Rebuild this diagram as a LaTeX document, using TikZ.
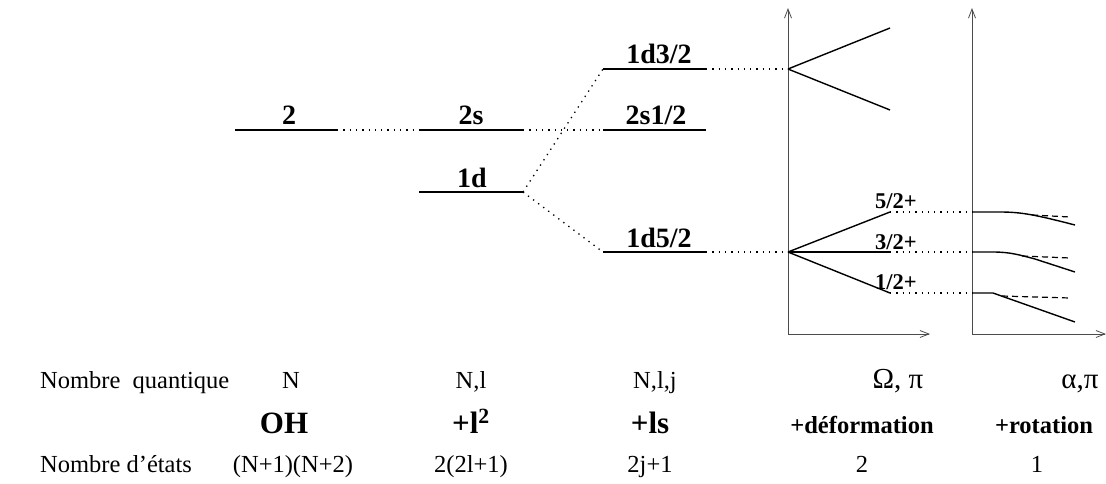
\documentclass[tikz,border=0pt]{standalone}
\usepackage{fontspec}
\setmainfont{Liberation Serif}
\usetikzlibrary{arrows.meta}

\tikzset{
  level/.style={line width=1.8pt},
  split/.style={line width=1.4pt},
  link/.style={line width=1.3pt, dash pattern=on 1.3pt off 5pt},
  tangent/.style={line width=1.2pt, dash pattern=on 6pt off 4pt},
  axis/.style={line width=0.8pt, black!70, -{Straight Barb[length=9pt,width=7pt,line width=0.8pt]}},
  lvlabel/.style={anchor=base, inner sep=0pt, font=\fontsize{28}{32}\selectfont\bfseries},
  omlabel/.style={anchor=base, inner sep=0pt, font=\fontsize{22.5}{26}\selectfont\bfseries},
  row/.style={anchor=base, inner sep=0pt, font=\fontsize{24.5}{29}\selectfont},
  bigrow/.style={anchor=base, inner sep=0pt, font=\fontsize{31}{36}\selectfont\bfseries},
  midrow/.style={anchor=base, inner sep=0pt, font=\fontsize{24.5}{29}\selectfont\bfseries},
  greek/.style={anchor=base, inner sep=0pt, font=\fontsize{29}{34}\selectfont},
}

\begin{document}
\begin{tikzpicture}[x=1pt, y=-1pt]
\useasboundingbox (0,0) rectangle (1106,483);

% ---- spherical levels ----
\coordinate (n2a) at (235,130);  \coordinate (n2b) at (337,130);
\coordinate (s2a) at (419,130);  \coordinate (s2b) at (523,130);
\coordinate (d1a) at (419,192);  \coordinate (d1b) at (523,192);
\coordinate (d32a) at (603,69);  \coordinate (d32b) at (706,69);
\coordinate (s12a) at (603,130); \coordinate (s12b) at (706,130);
\coordinate (d52a) at (603,252); \coordinate (d52b) at (706,252);

\draw[level] (n2a) -- (n2b);
\draw[level] (s2a) -- (s2b);
\draw[level] (d1a) -- (d1b);
\draw[level] (d32a) -- (d32b);
\draw[level] (s12a) -- (s12b);
\draw[level] (d52a) -- (d52b);

\node[lvlabel] (t2)   at (289,124) {2};
\node[lvlabel] (t2s)  at (471,124) {2s};
\node[lvlabel] (t1d)  at (472,187) {1d};
\node[lvlabel] (t132) at (659,63)  {1d3/2};
\node[lvlabel] (t212) at (656,124) {2s1/2};
\node[lvlabel] (t152) at (659,247) {1d5/2};

\draw[link] (n2b) -- (s2a);
\draw[link] (s2b) -- (s12a);
\draw[link] (d1b) -- (d32a);
\draw[link] (d1b) -- (d52a);

% ---- deformation axes ----
\coordinate (oa) at (788,334);
\coordinate (oaTop) at (788,8);
\coordinate (oaEnd) at (930,334);
\draw[axis] (oa) -- (oaTop);
\draw[axis] (oa) -- (oaEnd);

\coordinate (u0) at (788,69);
\coordinate (u1) at (890,28);
\coordinate (u2) at (890,110);
\coordinate (v0) at (788,252);
\coordinate (v52) at (890,212);
\coordinate (v32) at (890,252);
\coordinate (v12) at (890,293);

\draw[link] (d32b) -- (u0);
\draw[link] (d52b) -- (v0);
\draw[split] (u0) -- (u1);
\draw[split] (u0) -- (u2);
\draw[split] (v0) -- (v52);
\draw[split] (v0) -- (v32);
\draw[split] (v0) -- (v12);

\node[omlabel] (o52) at (896,208) {5/2+};
\node[omlabel] (o32) at (896,249) {3/2+};
\node[omlabel] (o12) at (896,289) {1/2+};

% ---- rotation axes ----
\coordinate (ra) at (972,334);
\coordinate (raTop) at (972,8);
\coordinate (raEnd) at (1106,334);
\draw[axis] (ra) -- (raTop);
\draw[axis] (ra) -- (raEnd);

\coordinate (w52) at (972,212);
\coordinate (w32) at (972,252);
\coordinate (w12) at (972,293);
\draw[link] (v52) -- (w52);
\draw[link] (v32) -- (w32);
\draw[link] (v12) -- (w12);

\coordinate (e52) at (1075,225);
\coordinate (e32) at (1075,272);
\coordinate (e12) at (1075,322);
\draw[split] (w52) -- (1000,212) .. controls (1022,212) and (1036,215) .. (e52);
\draw[split] (w32) -- (993,252) .. controls (1010,252) and (1020,255) .. (1035,259) -- (e32);
\draw[split] (w12) -- (993,293) -- (e12);

\coordinate (f52a) at (1032,215); \coordinate (f52b) at (1070,217);
\coordinate (f32a) at (1022,256); \coordinate (f32b) at (1070,258);
\coordinate (f12a) at (1002,296); \coordinate (f12b) at (1070,298);
\draw[tangent] (f52a) -- (f52b);
\draw[tangent] (f32a) -- (f32b);
\draw[tangent] (f12a) -- (f12b);

% ---- table of quantum numbers ----
\node[row, anchor=base west] (q0) at (40,388) {Nombre\ \ quantique};
\node[row] (q1) at (291,388) {N};
\node[row] (q2) at (471,388) {N,l};
\node[row] (q3) at (655,388) {N,l,j};
\node[greek] (q4) at (898,388) {Ω, π};
\node[greek] (q5) at (1080,388) {α,π};

\node[bigrow] (h1) at (284,433) {OH};
\node[bigrow] (h2) at (471,433) {+l\textsuperscript{2}};
\node[bigrow] (h3) at (650,433) {+ls};
\node[midrow] (h4) at (862,433) {+déformation};
\node[midrow] (h5) at (1044,433) {+rotation};

\node[row, anchor=base west] (e0) at (40,472) {Nombre d’états};
\node[row] (e1) at (293,472) {(N+1)(N+2)};
\node[row] (e2) at (471,472) {2(2l+1)};
\node[row] (e3) at (650,472) {2j+1};
\node[row] (e4) at (862,472) {2};
\node[row] (e5) at (1037,472) {1};
\end{tikzpicture}
\end{document}
